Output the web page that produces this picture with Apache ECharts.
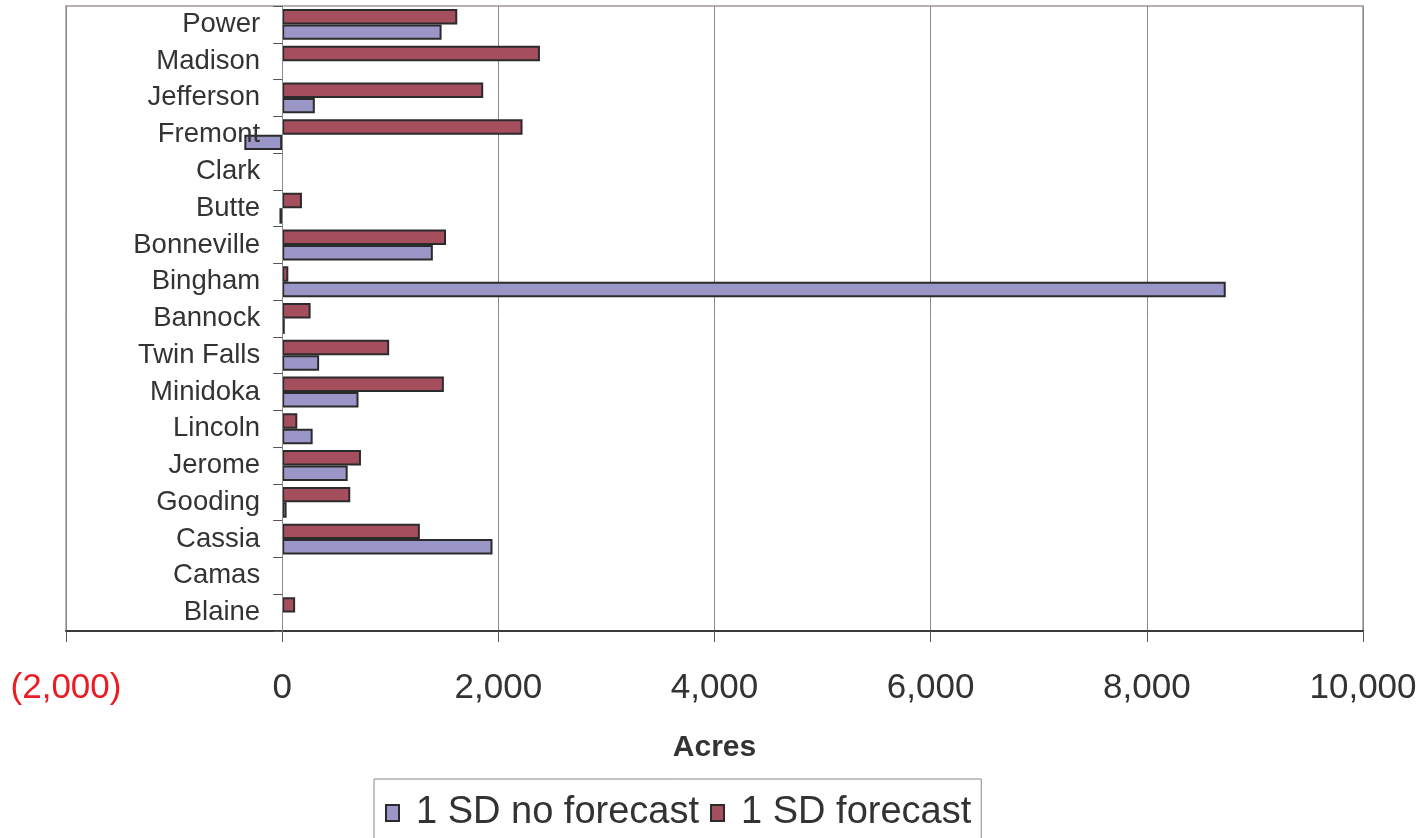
<!DOCTYPE html>
<html>
<head>
<meta charset="utf-8">
<script src="https://cdn.jsdelivr.net/npm/echarts@6/dist/echarts.min.js"></script>
<style>
html,body{margin:0;padding:0;background:#fff;}
#chart{width:1420px;height:838px;}
</style>
</head>
<body>
<div id="chart"></div>
<script>
const categories = ['Blaine','Camas','Cassia','Gooding','Jerome','Lincoln','Minidoka','Twin Falls','Bannock','Bingham','Bonneville','Butte','Clark','Fremont','Jefferson','Madison','Power'];
// null = blank cell (no bar drawn)
const noForecast = [null, null, 1946, 41, 606, 282, 706, 342, 24, 8730, 1394, -25, null, -350, 302, null, 1475];
const forecast = [120, null, 1274, 630, 729, 140, 1496, 990, 263, 57, 1516, 183, null, 2224, 1860, 2385, 1620];
const seriesNames = ['1 SD no forecast', '1 SD forecast'];
const xMin = -2000, xMax = 10000, xStep = 2000;

const FONT = "'Liberation Sans', Arial, Helvetica, sans-serif";
function fmt(v){ return Math.abs(v).toString().replace(/\B(?=(\d{3})+(?!\d))/g, ','); }

const GRID_LEFT = 66, GRID_RIGHT = 57, W = 1420;
// distance in px from grid left edge to the x = 0 position
const zeroOffset = (0 - xMin) / (xMax - xMin) * (W - GRID_LEFT - GRID_RIGHT);

const chart = echarts.init(document.getElementById('chart'), null, {renderer:'canvas'});
chart.setOption({
  animation:false,
  backgroundColor:'#ffffff',
  grid:{left:GRID_LEFT, right:GRID_RIGHT, top:6, bottom:207, containLabel:false, outerBoundsMode:'none', show:true,
        borderColor:'#a39797', borderWidth:1.5, backgroundColor:'transparent'},
  xAxis:{
    type:'value', min:xMin, max:xMax, interval:xStep,
    axisLine:{show:true, lineStyle:{color:'#3a3a3a', width:2}},
    axisTick:{show:true, length:11, lineStyle:{color:'#555', width:1}},
    splitLine:{show:true, lineStyle:{color:'#8a8a8a', width:1}},
    axisLabel:{margin:40, fontSize:35, color:'#333', fontFamily:FONT,
      formatter:function(v){ return v<0 ? '{neg|('+fmt(v)+')}' : fmt(v); },
      rich:{neg:{color:'#ec1c24', fontSize:35, fontFamily:FONT}}},
    name:'Acres', nameLocation:'middle', nameGap:102,
    nameTextStyle:{fontSize:30, fontWeight:'bold', color:'#333', fontFamily:FONT}
  },
  yAxis:{
    type:'category', data:categories, z:5,
    offset:-zeroOffset,
    axisLine:{show:true, onZero:false, lineStyle:{color:'#8a8a8a', width:1}},
    axisTick:{show:true, length:9, lineStyle:{color:'#555', width:1}},
    axisLabel:{margin:22, fontSize:27.5, color:'#333', fontFamily:FONT},
    splitLine:{show:false}
  },
  legend:{
    left:374, top:779, orient:'horizontal',
    data:seriesNames,
    itemWidth:13, itemHeight:16, itemGap:11,
    padding:[15,10,40,11],
    borderColor:'#888', borderWidth:1,
    icon:'rect',
    formatter:function(n){ return '{a|'+n+'}'; },
    textStyle:{fontSize:38, color:'#333', fontFamily:FONT,
      rich:{a:{fontSize:38, color:'#333', fontFamily:FONT, padding:[0,0,0,12]}}},
    itemStyle:{borderColor:'#2b2b2b', borderWidth:2}
  },
  series:[
    {name:seriesNames[1], type:'bar', data:forecast, barGap:'0%', barCategoryGap:'16%',
     itemStyle:{color:'#a54f5e', borderColor:'#2b2b2b', borderWidth:2}},
    {name:seriesNames[0], type:'bar', data:noForecast, barGap:'0%', barCategoryGap:'16%',
     itemStyle:{color:'#9b96c8', borderColor:'#2b2b2b', borderWidth:2}}
  ]
});
</script>
</body>
</html>
